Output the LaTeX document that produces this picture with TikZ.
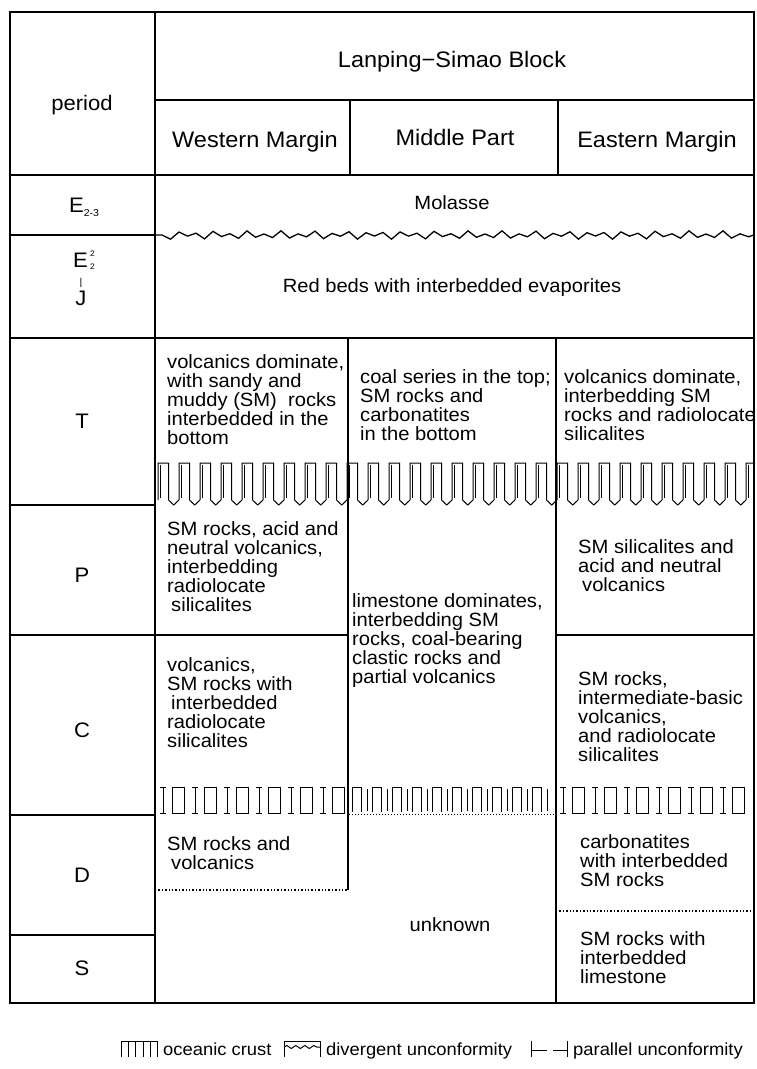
\documentclass[tikz,border=0pt]{standalone}
\usepackage{fontspec}
\setmainfont{Liberation Sans}[FakeStretch=1.05]
\usetikzlibrary{decorations.pathmorphing}
\begin{document}
\begin{tikzpicture}[x=1pt,y=-1pt,
  frame/.style={line width=1.9pt},
  grid/.style={line width=1.3pt},
  crust/.style={line width=1pt},
  body/.style={font=\fontsize{19.2}{19.2}\selectfont, align=left, anchor=north west, inner sep=0pt},
  head/.style={font=\fontsize{22.4}{24}\selectfont, inner sep=0pt},
  per/.style={font=\fontsize{21}{23}\selectfont, inner sep=0pt},
  leg/.style={font=\fontsize{17.5}{19}\selectfont, anchor=base west, inner sep=0pt},
]
\useasboundingbox (0,0) rectangle (756,1069);

% ---- grid ----
\draw[grid] (155,12) -- (155,1003);
\draw[grid] (155,100) -- (754,100);
\draw[grid] (350,100) -- (350,175);
\draw[grid] (558,100) -- (558,175);
\draw[grid] (10,175) -- (754,175);
\draw[grid] (10,235) -- (155,235);
\draw[grid] (155,235) -- (162,235)
  \foreach \i in {1,...,69} { -- ({162+8.5*\i},{235+(2*mod(\i,2)-1)*(2.6+1.6*sin(\i*83))}) } -- (754,235);
\draw[grid] (10,338) -- (754,338);
\draw[grid] (10,505) -- (155,505);
\draw[grid] (10,635) -- (348,635);
\draw[grid] (556,635) -- (754,635);
\draw[grid] (10,815) -- (155,815);
\draw[grid] (10,935) -- (155,935);
\draw[grid] (348,338) -- (348,890);
\draw[grid] (556,338) -- (556,1003);
\draw[dotted, line width=1.4pt] (155,890) -- (348,890);
\draw[dotted, line width=1.4pt] (556,911) -- (754,911);

% ---- oceanic crust band T/P ----
\begin{scope}
\clip (155,440) rectangle (754,520);
\foreach \k in {0,...,28} {
  \draw[crust] ({158+21*\k},500) -- ++(0,-37) -- ++(10.5,0) -- ++(0,37) -- ++(5.25,5) -- ++(5.25,-5);
  \draw[line width=0.6pt] ({158+21*\k+2.5},465) -- ++(0,33);
}
\end{scope}

% ---- oceanic crust band C/D ----
\foreach \u in {160,192,...,320,560,592,...,720} {
  \draw[crust] ({\u+3},787) -- ({\u+3},813);
  \draw[crust] (\u,787) -- ({\u+6},787);
  \draw[crust] (\u,813) -- ({\u+6},813);
  \draw[crust] ({\u+12},787) rectangle ({\u+24},813);
}
\foreach \k in {0,...,9} {
  \draw[crust] ({352+20*\k},812) -- ({352+20*\k},787) -- ({361+20*\k},787) -- ({361+20*\k},812);
  \draw[line width=0.6pt] ({367+20*\k},789) -- ({367+20*\k},811);
}
\draw[dotted, line width=1pt] (349,814) -- (556,814);

% ---- frame ----
\draw[frame] (10,12) rectangle (754,1003);

% ---- header ----
\node[per] (period) at (82,105) {period};
\node[head] (block) at (452,62) {Lanping−Simao Block};
\node[head] (west) at (255,142) {Western Margin};
\node[head] (mid) at (455,137) {Middle Part};
\node[head] (east) at (657,142) {Eastern Margin};

% ---- period labels ----
\node[per] (e23) at (84,207) {E\raisebox{-4pt}{\fontsize{10}{10}\selectfont 2-3}};
\node[per, anchor=east] (e22) at (88,260) {E};
\node[inner sep=0pt, anchor=west, align=left, font=\fontsize{8}{13}\selectfont] (e22s) at (90,260) {2\\2};
\node[per, font=\fontsize{10}{10}\selectfont] (bar) at (81,283) {|};
\node[per] (jur) at (81,298) {J};
\node[per] (tri) at (82,421) {T};
\node[per] (perm) at (82,575) {P};
\node[per] (carb) at (82,730) {C};
\node[per] (dev) at (82,875) {D};
\node[per] (sil) at (82,968) {S};

% ---- full width rows ----
\node[body, anchor=center, align=center] (molasse) at (452,203) {Molasse};
\node[body, anchor=center, align=center] (redbeds) at (452,288) {Red beds with interbedded evaporites};

% ---- T ----
\node[body] (wt) at (167,354) {volcanics dominate,\\with sandy and\\muddy (SM)\ \ rocks\\interbedded in the\\bottom};
\node[body] (mt) at (360,369) {coal series in the top;\\SM rocks and\\carbonatites\\in the bottom};
\node[body] (et) at (564,369) {volcanics dominate,\\interbedding SM\\rocks and radiolocate\\silicalites};

% ---- P ----
\node[body] (wp) at (167,521) {SM rocks, acid and\\neutral volcanics,\\interbedding\\radiolocate\\\hspace{4pt}silicalites};
\node[body] (ep) at (578,539) {SM silicalites and\\acid and neutral\\\hspace{4pt}volcanics};
\node[body] (mpc) at (352,593) {limestone dominates,\\interbedding SM\\rocks, coal-bearing\\clastic rocks and\\partial volcanics};

% ---- C ----
\node[body] (wc) at (167,657) {volcanics,\\SM rocks with\\\hspace{4pt}interbedded\\radiolocate\\silicalites};
\node[body] (ec) at (578,671) {SM rocks,\\intermediate-basic\\volcanics,\\and radiolocate\\silicalites};

% ---- D / S ----
\node[body] (wd) at (167,836) {SM rocks and\\\hspace{4pt}volcanics};
\node[body] (ed) at (580,834) {carbonatites\\with interbedded\\SM rocks};
\node[body] (es) at (580,931) {SM rocks with\\interbedded\\limestone};
\node[body, anchor=center] (unknown) at (450,925) {unknown};

% ---- legend ----
\draw[crust] (121,1057) -- (121,1041) -- (157,1041) -- (157,1057);
\foreach \x in {128,135,143,150} { \draw[crust] (\x,1041) -- (\x,1057); }
\node[leg] (legoc) at (163,1055) {oceanic crust};
\draw[crust] (284,1057) -- (284,1041) -- (320,1041) -- (320,1057);
\draw[crust, decorate, decoration={snake, amplitude=1.5pt, segment length=9pt}] (284,1047) -- (320,1047);
\node[leg] (legdiv) at (326,1055) {divergent unconformity};
\draw[crust] (531,1041) -- (531,1057);
\draw[crust] (531,1050) -- (547,1050);
\draw[crust] (553,1050) -- (567,1050);
\draw[crust] (567,1041) -- (567,1057);
\node[leg] (legpar) at (573,1055) {parallel unconformity};
\end{tikzpicture}
\end{document}
